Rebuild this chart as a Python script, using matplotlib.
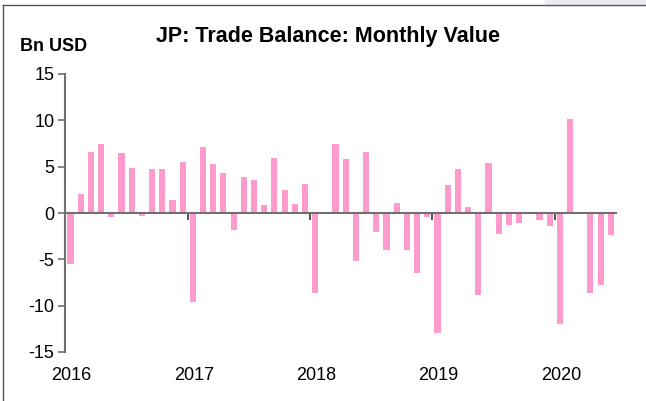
import matplotlib.pyplot as plt
from matplotlib.patches import Rectangle

# monthly trade balance, Jan 2016 .. Jun 2020 (Bn USD)
values_2016 = [-5.5, 2.1, 6.6, 7.4, -0.4, 6.5, 4.9, -0.3, 4.8, 4.7, 1.4, 5.5]
values_2017 = [-9.6, 7.1, 5.3, 4.3, -1.8, 3.9, 3.6, 0.9, 5.9, 2.5, 1.0, 3.1]
values_2018 = [-8.6, -0.05, 7.4, 5.8, -5.2, 6.6, -2.0, -4.0, 1.1, -4.0, -6.5, -0.4]
values_2019 = [-13.0, 3.0, 4.7, 0.6, -8.8, 5.4, -2.3, -1.3, -1.1, 0.1, -0.8, -1.4]
values_2020 = [-12.0, 10.1, 0.05, -8.6, -7.8, -2.4]
years = ['2016', '2017', '2018', '2019', '2020']

values = values_2016 + values_2017 + values_2018 + values_2019 + values_2020
months = [i + 0.5 for i in range(len(values))]

plt.rcParams['font.family'] = ['Liberation Sans', 'DejaVu Sans']
plt.rcParams['axes.unicode_minus'] = False

fig = plt.figure(figsize=(6.46, 4.01), dpi=100)
ax = fig.add_axes([65.4 / 646, 49 / 401, 550.5 / 646, 278 / 401])

ax.bar(months, values, width=0.6, color='#FF9ACD', zorder=2)

ax.set_xlim(0, 54)
ax.set_ylim(-15, 15)
ax.set_yticks([-15, -10, -5, 0, 5, 10, 15])
ax.tick_params(axis='y', direction='out', length=5, width=1.2, color='#707070',
               labelsize=13, pad=3)

ax.spines['top'].set_visible(False)
ax.spines['right'].set_visible(False)
ax.spines['left'].set_color('#707070')
ax.spines['left'].set_linewidth(1.5)
ax.spines['bottom'].set_position(('data', 0))
ax.spines['bottom'].set_color('#707070')
ax.spines['bottom'].set_linewidth(1.5)
ax.spines['bottom'].set_zorder(3)

ax.set_xticks([12 * k for k in range(5)])
ax.tick_params(axis='x', direction='out', length=5, width=1.2, color='#333333',
               labelbottom=False)

sec = ax.secondary_xaxis(0)
sec.set_xticks([12 * k + 0.6 for k in range(5)])
sec.set_xticklabels(years)
sec.spines['bottom'].set_visible(False)
sec.tick_params(length=0, labelsize=13, pad=11)

fig.text(0.508, 0.910, 'JP: Trade Balance: Monthly Value', ha='center', va='center',
         fontsize=15.5, fontweight='bold')
fig.text(20 / 646, 0.885, 'Bn USD', ha='left', va='center',
         fontsize=13, fontweight='bold')

# frame around the chart and light corner shading
fig.patches.append(Rectangle((545 / 646, 396 / 401), 101 / 646, 5 / 401,
                             transform=fig.transFigure, color='#ECECF6', zorder=0))
fig.lines.append(plt.Line2D([3 / 646, 3 / 646], [0, 396 / 401], transform=fig.transFigure,
                            color='#555555', lw=1))
fig.lines.append(plt.Line2D([3 / 646, 1], [396 / 401, 396 / 401], transform=fig.transFigure,
                            color='#555555', lw=1))

fig.savefig('out.png', dpi=100)
